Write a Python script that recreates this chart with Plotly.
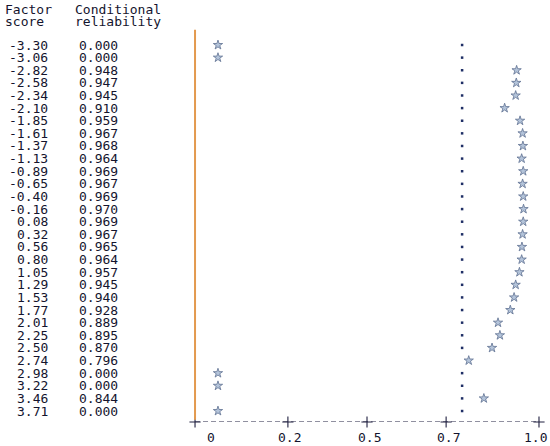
import plotly.graph_objects as go

# Table data (factor score vs conditional reliability)
factor_scores = ["-3.30", "-3.06", "-2.82", "-2.58", "-2.34", "-2.10", "-1.85", "-1.61",
                 "-1.37", "-1.13", "-0.89", "-0.65", "-0.40", "-0.16", "0.08", "0.32",
                 "0.56", "0.80", "1.05", "1.29", "1.53", "1.77", "2.01", "2.25",
                 "2.50", "2.74", "2.98", "3.22", "3.46", "3.71"]
reliability = [0.000, 0.000, 0.948, 0.947, 0.945, 0.910, 0.959, 0.967,
               0.968, 0.964, 0.969, 0.967, 0.969, 0.970, 0.969, 0.967,
               0.965, 0.964, 0.957, 0.945, 0.940, 0.928, 0.889, 0.895,
               0.870, 0.796, 0.000, 0.000, 0.844, 0.000]
tick_vals = [0, 0.27, 0.5, 0.73, 1.0]
tick_text = ["0", "0.2", "0.5", "0.7", "1.0"]
ref_line = 0.775

W, H = 550, 446
FONT = "DejaVu Sans Mono"
TXT = "#14142e"
rows = list(range(len(factor_scores)))
y_bottom = 29.87

fig = go.Figure()

# dotted reference line (dots skipped where a star sits on it)
dot_rows = [r for r, v in zip(rows, reliability) if abs(v - ref_line) > 0.03]
fig.add_trace(go.Scatter(
    x=[ref_line] * len(dot_rows), y=dot_rows, xaxis="x2", mode="markers",
    marker=dict(symbol="square", size=2.5, color="#1f2f66", line=dict(width=0)),
    hoverinfo="skip", showlegend=False))

# stars
fig.add_trace(go.Scatter(
    x=reliability, y=rows, xaxis="x2", mode="markers",
    marker=dict(symbol="star", size=7, color="#b4c4da", line=dict(color="#5f7192", width=0.8)),
    showlegend=False))

# bottom axis: dashed line with '+' ticks
fig.add_trace(go.Scatter(
    x=[tick_vals[0], tick_vals[-1]], y=[y_bottom, y_bottom], mode="lines",
    line=dict(color="#202040", width=1, dash="5px,3px"),
    cliponaxis=False, hoverinfo="skip", showlegend=False))
fig.add_trace(go.Scatter(
    x=tick_vals, y=[y_bottom] * len(tick_vals), mode="markers",
    marker=dict(symbol="cross-thin", size=8, line=dict(color="#202040", width=1.1)),
    cliponaxis=False, hoverinfo="skip", showlegend=False))

# orange vertical line
fig.add_shape(type="line", xref="x", yref="y", x0=0, x1=0, y0=-1.2, y1=29.7,
              line=dict(color="#e39a4f", width=2))

annotations = []
for r, s, v in zip(rows, factor_scores, reliability):
    annotations.append(dict(x=50 / W, xref="paper", y=r, yref="y", text=s,
                            xanchor="right", yanchor="middle", showarrow=False))
    annotations.append(dict(x=120 / W, xref="paper", y=r, yref="y", text=f"{v:.3f}",
                            xanchor="right", yanchor="middle", showarrow=False))

headers = [("Factor", 3, 9), ("score", 3, 21), ("Conditional", 73, 9), ("reliability", 73, 21)]
for t, px, py in headers:
    annotations.append(dict(x=px / W, xref="paper", y=1 - py / 422, yref="paper", text=t,
                            xanchor="left", yanchor="middle", showarrow=False))

label_shift = [16, 2, 2, 2, -3]
for tv, tt, sh in zip(tick_vals, tick_text, label_shift):
    annotations.append(dict(x=tv, xref="x", y=-15 / 422, yref="paper", text=tt,
                            xanchor="center", yanchor="middle", showarrow=False,
                            xshift=sh))

fig.update_layout(
    width=W, height=H,
    margin=dict(l=0, r=0, t=0, b=24),
    paper_bgcolor="white", plot_bgcolor="white",
    font=dict(family=FONT, size=13, color=TXT),
    xaxis=dict(range=[-0.567, 1.032], visible=False),
    xaxis2=dict(range=[-0.692, 1.054], overlaying="x", visible=False),
    yaxis=dict(range=[y_bottom, -3.566], visible=False),
    annotations=annotations,
    showlegend=False,
)

# page body has a default 8px margin; drop it so the figure sits at the window's corner
fig.write_html("out.html", config={"displayModeBar": False},
               post_script="document.body.style.margin='0px';")
